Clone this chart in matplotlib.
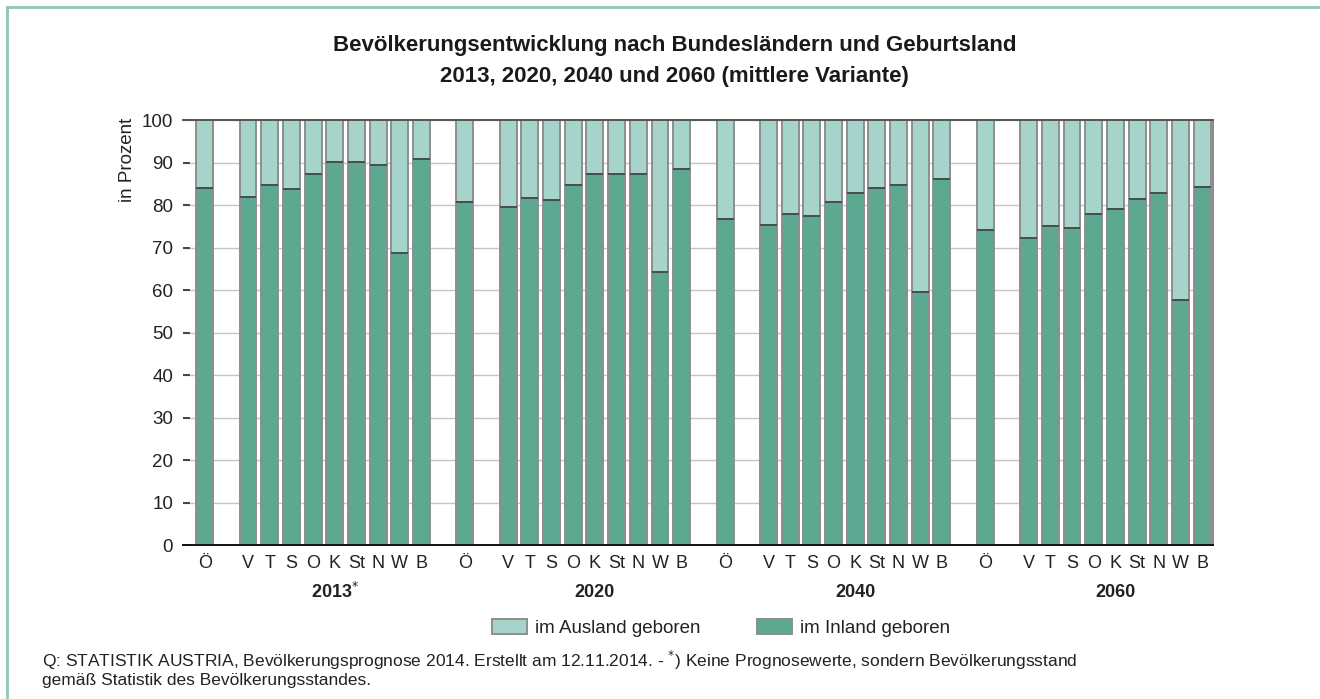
"""
Bevölkerungsentwicklung nach Bundesländern und Geburtsland.

Stacked bars (share born in Austria / born abroad) for 2013, 2020,
2040 and 2060, one group of bars per year.
"""

import matplotlib
matplotlib.use("Agg")

import matplotlib.pyplot as plt
from matplotlib.lines import Line2D
from matplotlib.patches import Patch

plt.rcParams["font.family"] = ["Liberation Sans", "DejaVu Sans"]

# ── data ─────────────────────────────────────────────────────────
years = ["2013", "2020", "2040", "2060"]
states = ["Ö", "V", "T", "S", "O", "K", "St", "N", "W", "B"]

inland_2013 = [84.1, 81.9, 84.6, 83.7, 87.2, 90.2, 90.2, 89.5, 68.6, 90.9]
inland_2020 = [80.8, 79.6, 81.7, 81.2, 84.6, 87.4, 87.4, 87.4, 64.2, 88.4]
inland_2040 = [76.8, 75.4, 77.8, 77.4, 80.8, 82.8, 84.1, 84.6, 59.6, 86.1]
inland_2060 = [74.2, 72.3, 75.1, 74.6, 78.0, 79.0, 81.5, 82.8, 57.6, 84.2]
inland = [inland_2013, inland_2020, inland_2040, inland_2060]

y_ticks = list(range(0, 101, 10))

DARK = "#5ca891"
LIGHT = "#a6d4ca"
EDGE = "#8e8e8e"
FRAME = "#92c6b6"
TEXT = "#222222"

# slot layout inside a group: Ö, one empty slot, then the nine states
offsets = [0] + list(range(2, 11))
group_step = 12
width = 0.78

fig = plt.figure(figsize=(13.2, 6.99), dpi=100)
ax = fig.add_axes([0.1386, 0.2203, 0.7803, 0.608])

for g, vals in enumerate(inland):
    xs = [g * group_step + o for o in offsets]
    abroad = [100 - v for v in vals]
    ax.bar(xs, vals, width=width, color=DARK, edgecolor=EDGE,
           linewidth=1.4, zorder=3)
    ax.bar(xs, abroad, bottom=vals, width=width, color=LIGHT,
           edgecolor=EDGE, linewidth=1.4, zorder=3)
    # dark seam between the two segments
    ax.hlines(vals, [x - width / 2 for x in xs], [x + width / 2 for x in xs],
              color="#3f4a46", linewidth=1.3, zorder=4)
    for x, s in zip(xs, states):
        ax.text(x, -4.3, s, ha="center", va="center", fontsize=13,
                color=TEXT)
    mid = g * group_step + 6
    label = years[g] + ("$^{*}$" if g == 0 else "")
    ax.text(mid, -11.1, label, ha="center", va="center", fontsize=13,
            fontweight="bold", color=TEXT)

ax.set_xlim(-1.0, 46.5)
ax.set_ylim(0, 100)
ax.set_yticks(y_ticks)
ax.set_yticklabels([str(t) for t in y_ticks], fontsize=13.5, color=TEXT)
ax.set_xticks([])
ax.tick_params(axis="y", direction="in", length=5, width=1.4,
               color="#444444", pad=7)
ax.grid(axis="y", color="#c4c4c4", linewidth=1.0, zorder=0)

ax.spines["left"].set_visible(False)
ax.spines["top"].set_color("#555555")
ax.spines["top"].set_linewidth(1.4)
ax.spines["right"].set_color("#8a8a8a")
ax.spines["right"].set_linewidth(1.4)
ax.spines["bottom"].set_color("#111111")
ax.spines["bottom"].set_linewidth(1.4)
for sp in ax.spines.values():
    sp.set_zorder(5)

ax.text(-0.054, 0.906, "in Prozent", transform=ax.transAxes, rotation=90,
        ha="center", va="center", fontsize=13.5, color=TEXT)

fig.text(0.511, 0.935, "Bevölkerungsentwicklung nach Bundesländern und Geburtsland",
         ha="center", va="center", fontsize=16, fontweight="bold",
         color="#1a1a1a")
fig.text(0.511, 0.891, "2013, 2020, 2040 und 2060 (mittlere Variante)",
         ha="center", va="center", fontsize=16, fontweight="bold",
         color="#1a1a1a")

handles = [
    Patch(facecolor=LIGHT, edgecolor=EDGE, linewidth=1.4,
          label="im Ausland geboren"),
    Patch(facecolor=DARK, edgecolor=EDGE, linewidth=1.4,
          label="im Inland geboren"),
]
fig.legend(handles=handles, loc="center", bbox_to_anchor=(0.546, 0.1016),
           ncol=2, frameon=False, fontsize=13.5, handlelength=1.9,
           handleheight=0.9, handletextpad=0.4, columnspacing=3.0,
           labelcolor=TEXT)

fig.text(0.032, 0.055,
         "Q: STATISTIK AUSTRIA, Bevölkerungsprognose 2014. Erstellt am "
         "12.11.2014. - $^{*}$) Keine Prognosewerte, sondern Bevölkerungsstand",
         ha="left", va="center", fontsize=12.5, color=TEXT)
fig.text(0.032, 0.027, "gemäß Statistik des Bevölkerungsstandes.",
         ha="left", va="center", fontsize=12.5, color=TEXT)

# frame line along the top and left edge of the figure
fig.add_artist(Line2D([0.0055, 1.0], [0.99, 0.99], transform=fig.transFigure,
                      color=FRAME, linewidth=2))
fig.add_artist(Line2D([0.0055, 0.0055], [0.0, 0.99], transform=fig.transFigure,
                      color=FRAME, linewidth=2))

fig.savefig("out.png", dpi=100, facecolor="white")
